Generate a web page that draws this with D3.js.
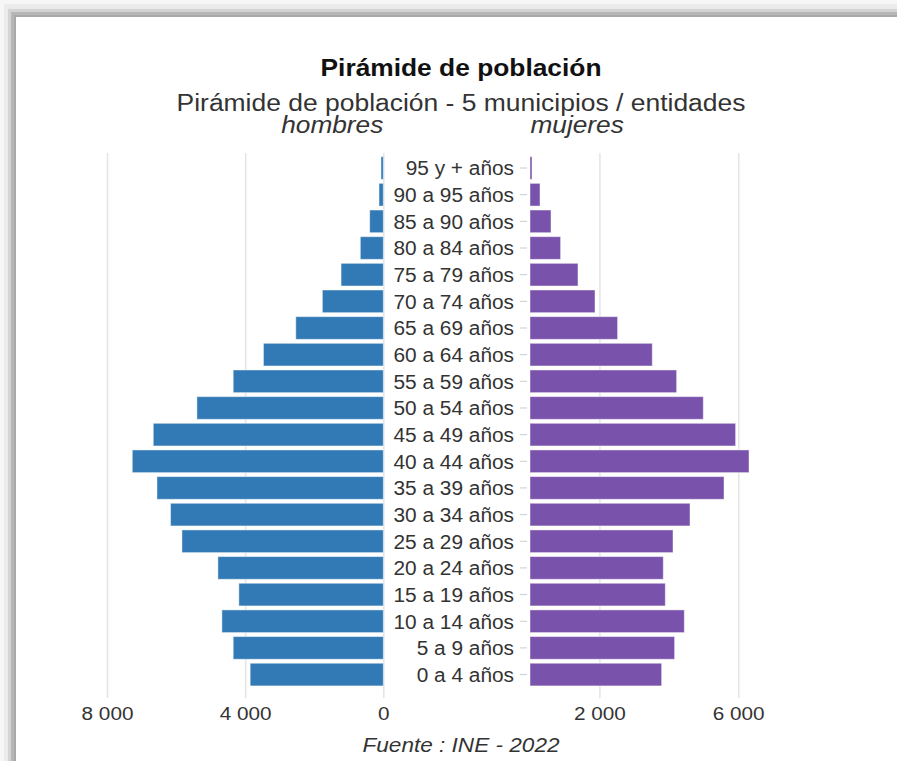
<!DOCTYPE html>
<html>
<head>
<meta charset="utf-8">
<script src="https://cdn.jsdelivr.net/npm/d3@7"></script>
<style>
  html, body { margin: 0; padding: 0; background: #fff; }
  svg { display: block; font-family: "Liberation Sans", Arial, sans-serif; }
</style>
</head>
<body>
<svg id="chart" width="897" height="761"></svg>
<script>
const categories = ["95 y + años","90 a 95 años","85 a 90 años","80 a 84 años","75 a 79 años","70 a 74 años","65 a 69 años","60 a 64 años","55 a 59 años","50 a 54 años","45 a 49 años","40 a 44 años","35 a 39 años","30 a 34 años","25 a 29 años","20 a 24 años","15 a 19 años","10 a 14 años","5 a 9 años","0 a 4 años"];
const hombres = [67,124,394,665,1223,1764,2534,3470,4346,5397,6660,7267,6553,6160,5830,4789,4182,4673,4346,3855];
const mujeres = [58,288,605,882,1383,1873,2524,3524,4225,4994,5925,6311,5591,4611,4121,3841,3899,4447,4167,3793];
const leftTicks = [8000, 4000, 0];
const rightTicks = [2000, 6000];
const titleText = "Pirámide de población";
const subtitleText = "Pirámide de población - 5 municipios / entidades";
const leftLabel = "hombres";
const rightLabel = "mujeres";
const sourceText = "Fuente : INE - 2022";

const svg = d3.select("#chart");
const SX = 1.08;

// frame (shadowed border)
const frame = [
  {x:0, y:0, f:"#f6f6f6"},
  {x:4, y:4, f:"#ebebeb"},
  {x:8, y:9, f:"#d4d4d4"},
  {x:11, y:12, f:"#b6b6b6"},
  {x:14, y:15, f:"#a9a9a9"},
  {x:16, y:17, f:"#ffffff"}
];
svg.selectAll("rect.frame").data(frame).join("rect")
  .attr("class","frame")
  .attr("x", d => d.x).attr("y", d => d.y)
  .attr("width", d => 897 - d.x + 20).attr("height", d => 761 - d.y + 20)
  .attr("fill", d => d.f);

const locale = d3.formatLocale({decimal: ",", thousands: " ", grouping: [3], currency: ["", ""]});
const fmt = locale.format(",");

const y = d3.scaleBand().domain(categories).range([154.7, 687.9]).paddingInner(0.15).paddingOuter(0.075);
const xL = d3.scaleLinear().domain([0, 8000]).range([383.3, 107]);
const xR = d3.scaleLinear().domain([0, 8000]).range([530, 807.6]);

const gridTop = 153, gridBottom = 698;

function styleXAxis(g) {
  g.select(".domain").remove();
  g.selectAll(".tick line").attr("stroke", "#e4e4e4").attr("stroke-width", 1.5);
  g.selectAll(".tick text")
    .attr("fill", "#333").attr("font-size", 19.2)
    .each(function() {
      const t = d3.select(this);
      const yy = +t.attr("y");
      t.attr("y", null).attr("dy", null)
       .attr("transform", `translate(0,${yy + 13.8}) scale(${SX},1)`);
    });
}

const axL = svg.append("g").attr("transform", `translate(0,${gridBottom})`)
  .call(d3.axisBottom(xL).tickValues(leftTicks).tickFormat(fmt).tickSize(-(gridBottom - gridTop)).tickPadding(8));
styleXAxis(axL);
const axR = svg.append("g").attr("transform", `translate(0,${gridBottom})`)
  .call(d3.axisBottom(xR).tickValues(rightTicks).tickFormat(fmt).tickSize(-(gridBottom - gridTop)).tickPadding(8));
styleXAxis(axR);

// category axis
const axY = svg.append("g").attr("transform", "translate(527,0)")
  .call(d3.axisLeft(y).tickSize(7).tickPadding(6));
axY.select(".domain").remove();
axY.selectAll(".tick line").attr("stroke", "#cccccc").attr("stroke-width", 1);
axY.selectAll(".tick text")
  .attr("fill", "#333").attr("font-size", 19.6)
  .attr("x", null).attr("dy", null)
  .attr("dominant-baseline", "central")
  .attr("transform", `translate(-13,0.5) scale(${SX * 0.985},1)`);

// bars
svg.append("g").selectAll("rect").data(categories).join("rect")
  .attr("x", (d, i) => xL(hombres[i]))
  .attr("y", d => y(d))
  .attr("width", (d, i) => xL(0) - xL(hombres[i]))
  .attr("height", y.bandwidth())
  .attr("fill", "#317ab5")
  .attr("stroke", "#ffffff").attr("stroke-opacity", 0.45).attr("stroke-width", 1);

svg.append("g").selectAll("rect").data(categories).join("rect")
  .attr("x", xR(0))
  .attr("y", d => y(d))
  .attr("width", (d, i) => xR(mujeres[i]) - xR(0))
  .attr("height", y.bandwidth())
  .attr("fill", "#7952ab")
  .attr("stroke", "#ffffff").attr("stroke-opacity", 0.45).attr("stroke-width", 1);

function txt(s, x, yy, size, opts = {}) {
  svg.append("text")
    .attr("transform", `translate(${x},${yy}) scale(${SX},1)`)
    .attr("text-anchor", opts.anchor || "middle")
    .attr("font-size", size)
    .attr("font-weight", opts.weight || "normal")
    .attr("font-style", opts.style || "normal")
    .attr("fill", opts.fill || "#333")
    .text(s);
}

txt(titleText, 461, 76, 24.4, {weight: "bold", fill: "#111"});
txt(subtitleText, 461, 110.5, 24.5, {fill: "#333"});
txt(leftLabel, 383.3, 133, 24.3, {anchor: "end", style: "italic", fill: "#333"});
txt(rightLabel, 530.5, 133, 24.3, {anchor: "start", style: "italic", fill: "#333"});
txt(sourceText, 461, 751.5, 20.9, {style: "italic", fill: "#333"});
</script>
</body>
</html>
